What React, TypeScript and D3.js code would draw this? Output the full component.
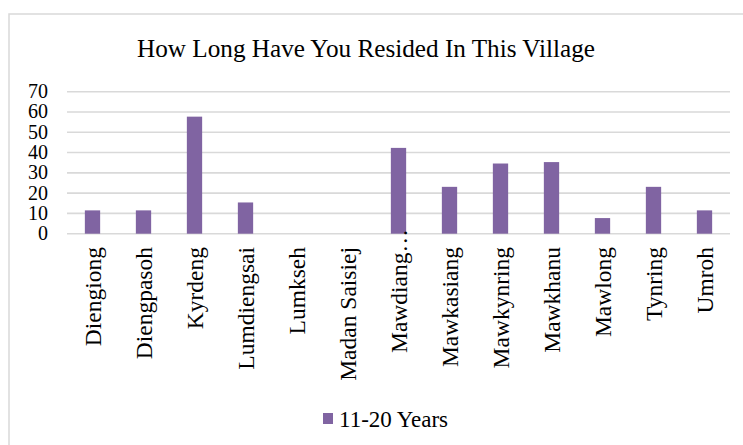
import React from "react";
import * as d3 from "d3";

const categories = [
  "Diengiong",
  "Diengpasoh",
  "Kyrdeng",
  "Lumdiengsai",
  "Lumkseh",
  "Madan Saisiej",
  "Mawdiang…",
  "Mawkasiang",
  "Mawkynring",
  "Mawkhanu",
  "Mawlong",
  "Tynring",
  "Umroh",
];
const values = [11.5, 11.5, 57.7, 15.4, 0, 0, 42.3, 23.1, 34.6, 35.3, 7.7, 23.1, 11.5];
const yTicks = [0, 10, 20, 30, 40, 50, 60, 70];
const seriesName = "11-20 Years";
const title = "How Long Have You Resided In This Village";

const W = 743;
const H = 445;
const FONT = "Liberation Serif, Times New Roman, DejaVu Serif, serif";
const BAR = "#8064a2";
const GRID = "#d9d9d9";

export default function App() {
  const left = 67;
  const right = 730;
  const top = 91.7;
  const bottom = 233.7;

  const x = d3.scaleBand<string>().domain(categories).range([left, right]).padding(0);
  const y = d3.scaleLinear().domain([0, 70]).range([bottom, top]);
  const bw = x.bandwidth() * 0.3;

  return (
    <svg
      width={W}
      height={H}
      style={{ position: "absolute", left: 0, top: 0, background: "#fff", fontFamily: FONT }}
    >
      <rect x={0} y={0} width={W} height={H} fill="#fff" />
      <rect x={9} y={14} width={800} height={600} fill="none" stroke={GRID} strokeWidth={1.5} />
      <text x={366} y={56.5} textAnchor="middle" fontSize={25.2} fill="#000" style={{ fontFamily: FONT }}>
        {title}
      </text>
      {yTicks.map((t) => (
        <g key={t}>
          <line x1={left} x2={right} y1={y(t)} y2={y(t)} stroke={GRID} strokeWidth={1.6} />
          <text x={48} y={y(t) + 6.5} textAnchor="end" fontSize={20} fill="#000" style={{ fontFamily: FONT }}>
            {t}
          </text>
        </g>
      ))}
      {categories.map((c, i) => {
        const cx = (x(c) as number) + x.bandwidth() / 2;
        return (
          <g key={c}>
            {values[i] > 0 && (
              <rect
                x={cx - bw / 2}
                y={y(values[i])}
                width={bw}
                height={bottom - y(values[i])}
                fill={BAR}
              />
            )}
            <text
              transform={`translate(${cx + 8.5},${c.endsWith("…") ? 229 : 247}) rotate(-90)`}
              textAnchor="end"
              fontSize={23.5}
              fill="#000"
              style={{ fontFamily: FONT }}
            >
              {c}
            </text>
          </g>
        );
      })}
      <rect x={323} y={413} width={10} height={11} fill={BAR} />
      <text x={339} y={427} fontSize={23} fill="#000" style={{ fontFamily: FONT }}>
        {seriesName}
      </text>
    </svg>
  );
}
